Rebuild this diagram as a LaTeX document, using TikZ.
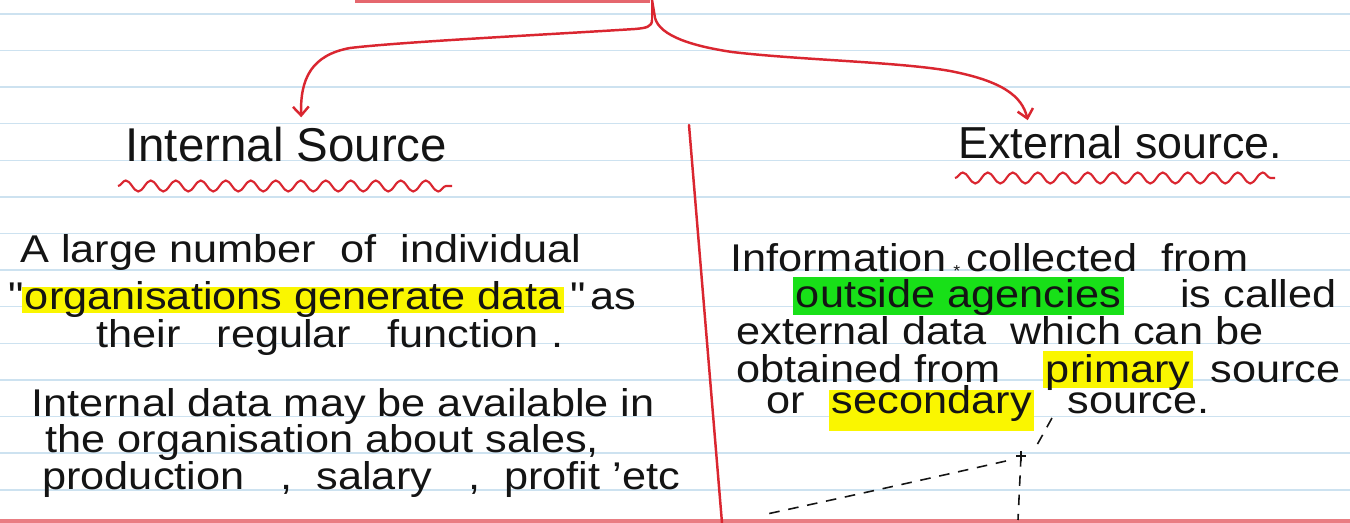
\documentclass[tikz,border=0pt]{standalone}
\usepackage{fontspec}
\setmainfont{Liberation Sans}
\newfontfamily\handfont[FakeStretch=1.12]{Liberation Sans}
\usetikzlibrary{positioning, calc}
\usetikzlibrary{decorations.pathmorphing}
\usetikzlibrary{arrows.meta}

\definecolor{penred}{RGB}{218,38,48}
\definecolor{ruleblue}{RGB}{205,226,240}
\definecolor{hlyellow}{RGB}{250,246,0}
\definecolor{hlgreen}{RGB}{24,224,24}
\definecolor{ink}{RGB}{20,20,20}

\tikzset{
  redpen/.style={penred, line width=1.4pt, line cap=round},
  wavy/.style={penred, line width=1.2pt, decorate, decoration={snake, amplitude=0.11cm, segment length=0.5cm}},
  ruleline/.style={ruleblue, line width=0.8pt},
  heading/.style={ink, anchor=base west, inner sep=0pt},
  writing/.style={ink, font=\handfont\fontsize{22}{26}\selectfont, anchor=base west, inner sep=0pt},
  marker/.style={writing, inner xsep=1.5pt, inner ysep=0pt},
  pencil/.style={ink, line width=0.9pt, dash pattern=on 6pt off 5pt},
}

\begin{document}
\begin{tikzpicture}[x=0.02cm, y=-0.02cm, >={Straight Barb[length=5pt,width=9pt]}]
                \fill[white] (0,0) rectangle (1350,523);
                \useasboundingbox (0,0) rectangle (1350,523);
                % ruled paper
                \foreach \k in {0,...,13}
                    \draw[ruleline] (0,{14+36.6*\k}) -- (1350,{14+36.6*\k});
                \draw[penred!70, line width=2.5pt] (355,1) -- (650,1);
                \draw[penred!60, line width=3pt] (0,522) -- (1350,522);
                % headings
                \node[heading, font=\fontsize{27}{30}\selectfont] (intern) at (125,162) {Internal Source};
                \node[heading, font=\fontsize{25.5}{30}\selectfont] (extern) at (958,159) {External source.};
                \draw[wavy] (118,186) -- (452,186);
                \draw[wavy] (955,178) -- (1275,178);
                % fork
                \coordinate (stemtop) at (652,0);
                \coordinate (fork) at (652,20);
                \draw[redpen] (stemtop) -- (fork);
                \draw[redpen,->] (fork) .. controls (652,27) and (646,28) .. (635,29)
                    .. controls (540,35) and (400,42) .. (350,48)
                    .. controls (312,55) and (300,78) .. ([xshift=0.3cm,yshift=0.2cm]intern.north);
                \draw[redpen,->] (stemtop) -- (655,18) .. controls (660,36) and (692,46) .. (732,52)
                    .. controls (800,60) and (900,62) .. (950,71)
                    .. controls (1002,81) and (1022,96) .. ([xshift=-1.85cm,yshift=0.12cm]extern.north);
                \draw[redpen] (689,125) -- (722,523);
                % left column
                \node[writing] (l1) at (20,263) {A large number\ \ of\ \ individual};
                \node[writing] (q1) at (8,310) {"};
                \node[marker, fill=hlyellow, text height=0.46cm, text depth=0.06cm] (l2) at (22,310) {organisations generate data};
                \node[writing] (q2) at (570,310) {"};
                \node[writing] (l2b) at (590,310) {as};
                \node[writing] (l3) at (96,348) {their\ \ \ regular\ \ \ function\ .};
                \node[writing] (l4) at (31,417) {Internal data may be available in};
                \node[writing] (l5) at (45,453) {the organisation about sales,};
                \node[writing] (l6) at (42,490) {production\ \ \ ,\ \ salary\ \ \ ,\ \ profit ’etc};
                % right column
                \node[writing] (r1) at (730,272) {Information\,\raisebox{-2.5pt}{\fontsize{9}{10}\selectfont *}\,collected\ \ from};
                \node[marker, fill=hlgreen, text height=0.62cm, text depth=0.14cm] (r2) at (793,308) {outside agencies};
                \node[writing] (r2b) at (1180,308) {is called};
                \node[writing] (r3) at (736,345) {external data\ \ which can be};
                \node[writing] (r4) at (736,383) {obtained from};
                \node[marker, fill=hlyellow, text height=0.64cm, text depth=0.1cm] (r4b) at (1043,383) {primary};
                \node[writing] (r4c) at (1210,383) {source};
                \node[writing] (r5) at (766,414) {or};
                \node[marker, fill=hlyellow, text height=0.48cm, text depth=0.34cm] (r5b) at (829,414) {secondary};
                \node[writing] (r5c) at (1067,414) {source.};
                % pencil marks
                \coordinate (cross) at (1021,456);
                \draw[pencil] (1052,418) -- (1037,445);
                \draw[ink, line width=0.9pt] (1016,456) -- (1026,456) (1021,451) -- (1021,461);
                \draw[pencil] (cross) -- (1018,520);
                \draw[pencil] plot [smooth, tension=0.7] coordinates {(1006,461) (935,477) (854,495) (767,514)};
\end{tikzpicture}
\end{document}
